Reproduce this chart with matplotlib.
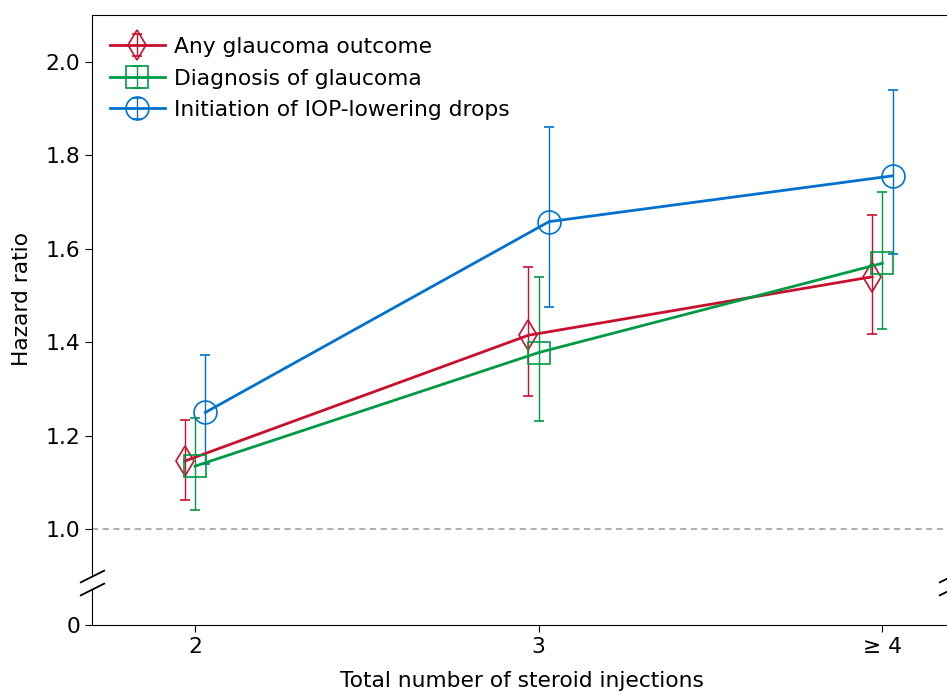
import matplotlib
matplotlib.use("Agg")
import matplotlib.pyplot as plt

injections = [2, 3, 4]
tick_labels = ["2", "3", "\u2265 4"]

any_hr = [1.146, 1.415, 1.540]
any_lo = [1.062, 1.285, 1.418]
any_hi = [1.233, 1.560, 1.672]

diag_hr = [1.135, 1.378, 1.569]
diag_lo = [1.041, 1.231, 1.428]
diag_hi = [1.238, 1.540, 1.722]

drops_hr = [1.250, 1.658, 1.756]
drops_lo = [1.139, 1.475, 1.589]
drops_hi = [1.373, 1.861, 1.939]

series = [
    ("Any glaucoma outcome", any_hr, any_lo, any_hi, "#C8102E", "d", 15, -0.03),
    ("Diagnosis of glaucoma", diag_hr, diag_lo, diag_hi, "#009A44", "s", 16.5, 0.0),
    ("Initiation of IOP-lowering drops", drops_hr, drops_lo, drops_hi, "#0072CE", "o", 16.5, 0.03),
]

fs = 15.7

fig = plt.figure(figsize=(9.47, 6.92), dpi=100)
ax = fig.add_axes([0.09715, 0.1676, 0.9071, 0.8107])
ax_low = fig.add_axes([0.09715, 0.0968, 0.9071, 0.0520])

for label, hr, lo, hi, color, marker, ms, off in series:
    xs = [x + off for x in injections]
    yerr = [[h - l for h, l in zip(hr, lo)], [u - h for h, u in zip(hr, hi)]]
    ax.errorbar(xs, hr, yerr=yerr, fmt="-" + marker, color=color, lw=2.0,
                markersize=ms, markerfacecolor="none", markeredgewidth=1.2,
                elinewidth=1.0, capsize=3.6, capthick=1.0, label=label)

ax.axhline(1.0, color="#999999", lw=1.1, ls=(0, (4, 3)))

ax.set_xlim(1.7, 4.2)
ax.set_ylim(0.9, 2.1)
ax.set_yticks([1.0, 1.2, 1.4, 1.6, 1.8, 2.0])
ax.set_yticklabels(["1.0", "1.2", "1.4", "1.6", "1.8", "2.0"])
ax.spines["bottom"].set_visible(False)
ax.tick_params(axis="x", bottom=False, labelbottom=False)
ax.tick_params(axis="y", labelsize=fs, length=5)
ax.set_ylabel("Hazard ratio", fontsize=fs)
ax.yaxis.set_label_coords(-0.070, 0.494)

ax_low.set_xlim(1.7, 4.2)
ax_low.set_ylim(0, 0.1)
ax_low.set_yticks([0])
ax_low.set_yticklabels(["0"])
ax_low.spines["top"].set_visible(False)
ax_low.set_xticks(injections)
ax_low.set_xticklabels(tick_labels)
ax_low.tick_params(labelsize=fs, length=5)
ax_low.set_xlabel("Total number of steroid injections", fontsize=fs, labelpad=10)

# break marks
d = 0.5
kw = dict(marker=[(-1, -d), (1, d)], markersize=18, linestyle="none",
          color="k", mec="k", mew=1.3, clip_on=False)
ax.plot([0, 1], [0, 0], transform=ax.transAxes, **kw)
ax_low.plot([0, 1], [1, 1], transform=ax_low.transAxes, **kw)

ax.legend(loc="upper left", bbox_to_anchor=(0.002, 0.99), frameon=False,
          fontsize=fs, handlelength=2.5, borderaxespad=0.35,
          labelspacing=0.53, handletextpad=0.45)

fig.savefig("out.png", dpi=100)
